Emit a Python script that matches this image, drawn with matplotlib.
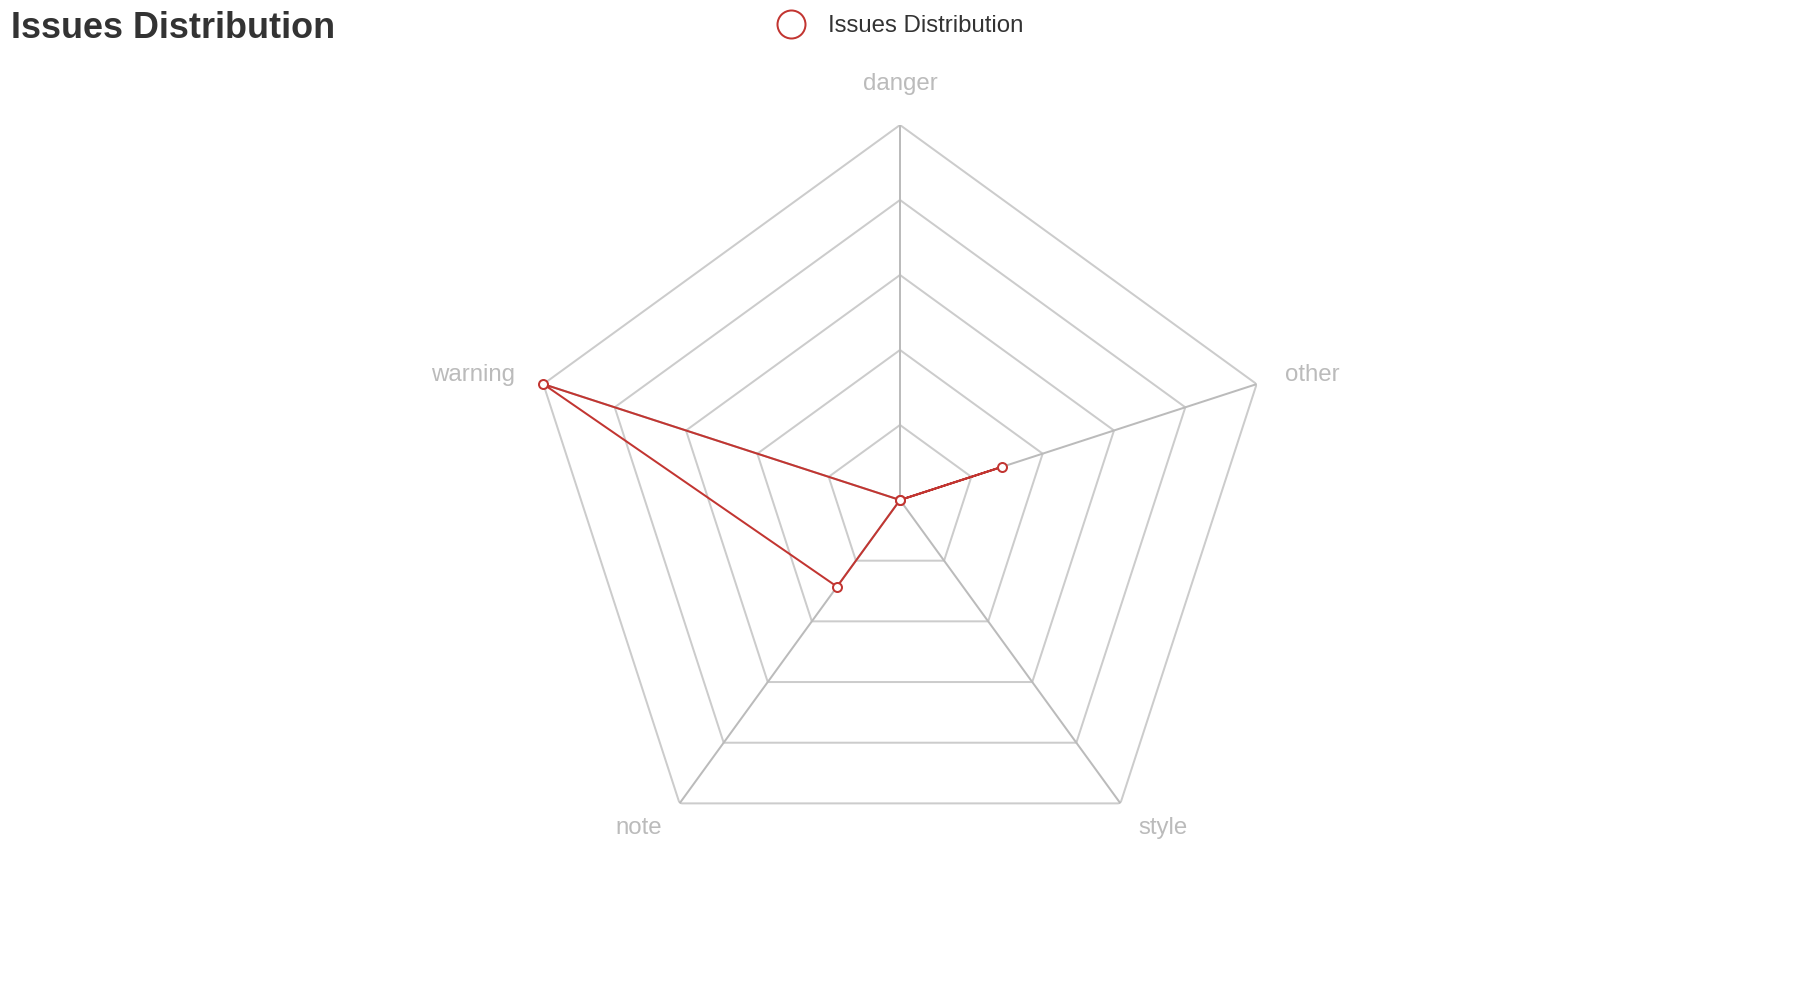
import numpy as np
import matplotlib
matplotlib.use("Agg")
import matplotlib.pyplot as plt
from matplotlib.lines import Line2D

plt.rcParams['font.family'] = ['Liberation Sans', 'DejaVu Sans']

title = "Issues Distribution"
series_name = "Issues Distribution"
categories = ["danger", "warning", "note", "style", "other"]
values = [0, 7, 2, 0, 2]
max_value = 7
split_number = 5

RED = "#c23531"
W, H, DPI = 1800, 1000, 100
PX = 72 / DPI  # points per pixel

fig = plt.figure(figsize=(W / DPI, H / DPI), dpi=DPI, facecolor="white")

cx, cy, R = 900, 500, 375
ax = fig.add_axes([(cx - R) / W, (H - cy - R) / H, 2 * R / W, 2 * R / H], projection="polar")
ax.set_theta_offset(np.pi / 2)
ax.set_theta_direction(1)
ax.set_ylim(0, max_value)
ax.set_xticks([])
ax.set_yticks([])
ax.grid(False)
ax.spines["polar"].set_visible(False)
ax.patch.set_alpha(0)

n = len(categories)
thetas = np.linspace(0, 2 * np.pi, n, endpoint=False)
closed_t = np.append(thetas, thetas[0])

# rings
for lvl in np.linspace(0, max_value, split_number + 1)[1:]:
    ax.plot(closed_t, [lvl] * (n + 1), color="#cccccc", lw=2 * PX, zorder=1)
# spokes
for t in thetas:
    ax.plot([t, t], [0, max_value], color="#bbbbbb", lw=2 * PX, zorder=1)

# series
vals = np.append(values, values[0])
ax.plot(closed_t, vals, color=RED, lw=2 * PX, zorder=3, clip_on=False)
ax.plot(thetas, values, linestyle="None", marker="o", markersize=9 * PX,
        markerfacecolor="white", markeredgecolor=RED, markeredgewidth=2 * PX,
        zorder=4, clip_on=False)

# axis names
name_r = max_value * (R + 30) / R
for t, name in zip(thetas, categories):
    ang = t + np.pi / 2
    c, s = np.cos(ang), np.sin(ang)
    if abs(c) < 1e-6:
        ha = "center"
    elif c > 0:
        ha = "left"
    else:
        ha = "right"
    if abs(c) < 1e-6:
        va = "bottom" if s > 0 else "top"
    else:
        va = "center"
    ax.text(t, name_r, name, ha=ha, va=va, fontsize=24 * PX, color="#bbbbbb",
            clip_on=False)

# title
fig.text(11 / W, 1 - 38 / H, title, ha="left", va="baseline",
         fontsize=36 * PX, fontweight="bold", color="#333333")

# legend
handle = Line2D([], [], linestyle="None", marker="o", markersize=28 * PX,
                markerfacecolor="white", markeredgecolor=RED, markeredgewidth=2 * PX)
fig.legend([handle], [series_name], loc="center left",
           bbox_to_anchor=(777 / W, 1 - 26.5 / H), frameon=False,
           borderpad=0, borderaxespad=0, handlelength=1.2, handletextpad=0.94,
           fontsize=24 * PX, labelcolor="#333333")

fig.savefig("out.png", dpi=DPI, facecolor="white")
